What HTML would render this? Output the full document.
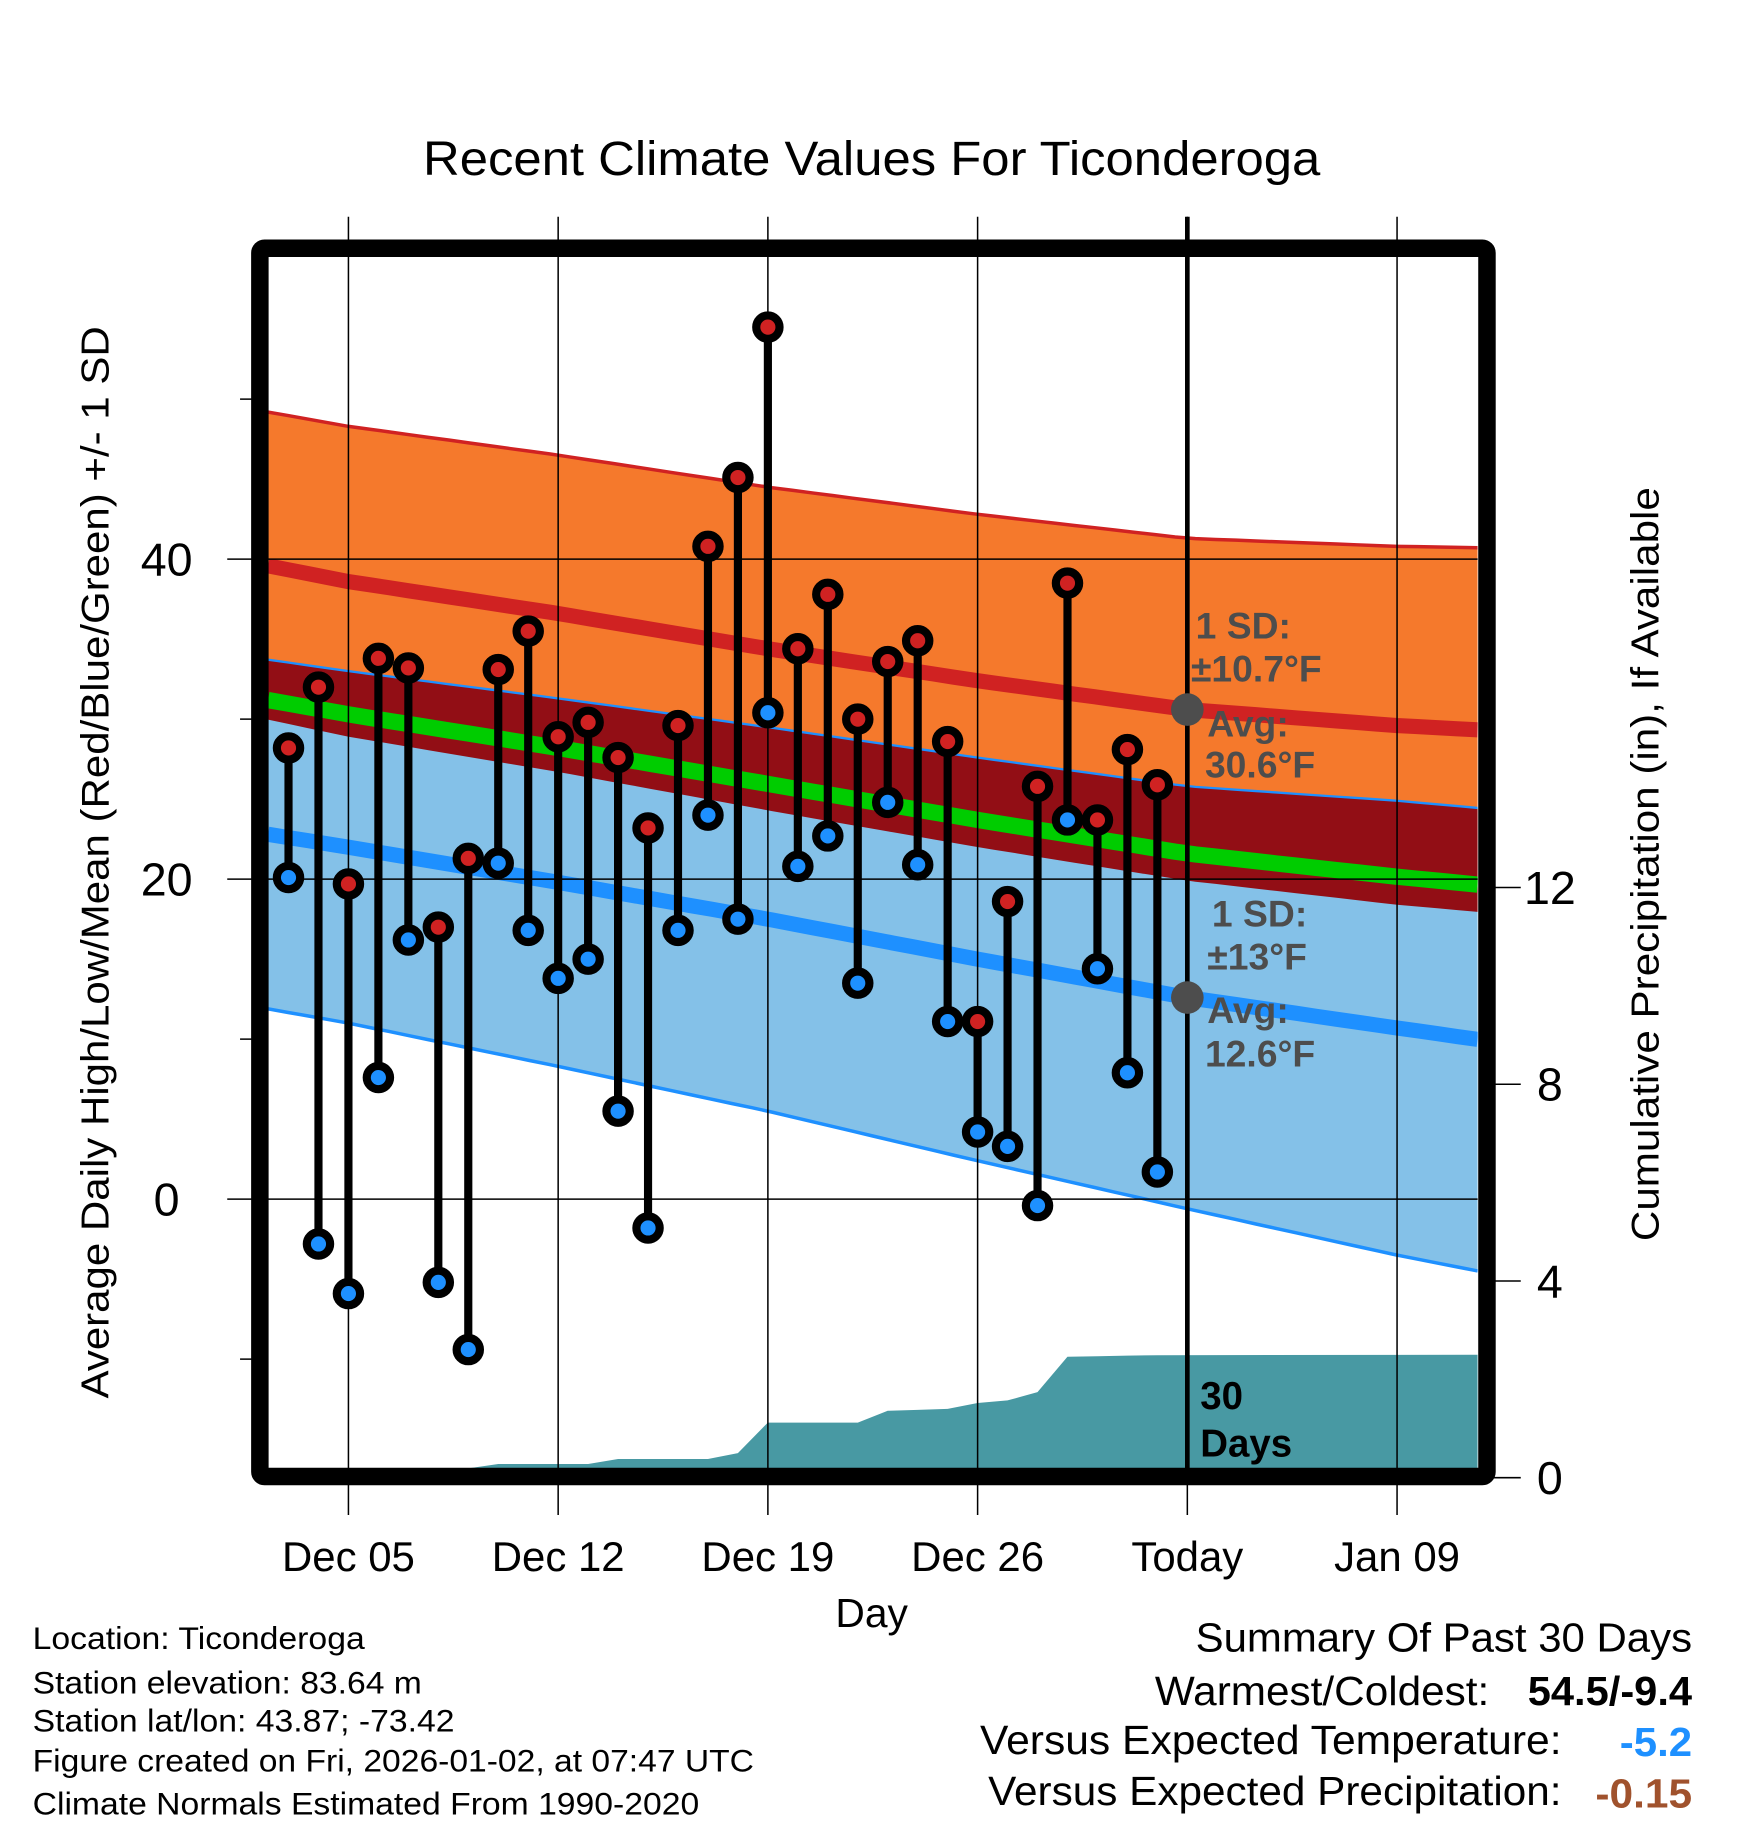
<!DOCTYPE html>
<html><head><meta charset="utf-8"><style>
html,body{margin:0;padding:0;background:#fff;}
svg{display:block;font-family:"Liberation Sans",Arial,sans-serif;}
</style></head><body>
<svg id="chart" width="1748" height="1828" viewBox="0 0 1500 1568.6" preserveAspectRatio="none" xmlns="http://www.w3.org/2000/svg">
<text x="363" y="150" font-size="41" textLength="770" lengthAdjust="spacingAndGlyphs">Recent Climate Values For Ticonderoga</text>
<g id="plot"></g>
<text transform="translate(93,1200) rotate(-90)" font-size="33" textLength="920" lengthAdjust="spacingAndGlyphs">Average Daily High/Low/Mean (Red/Blue/Green) +/- 1 SD</text>
<text transform="translate(1423,1065) rotate(-90)" font-size="33" textLength="647" lengthAdjust="spacingAndGlyphs">Cumulative Precipitation (in), If Available</text>
<text x="748" y="1396" font-size="35" text-anchor="middle">Day</text>
<g font-size="27">
<text x="28" y="1415" textLength="285" lengthAdjust="spacingAndGlyphs">Location: Ticonderoga</text>
<text x="28" y="1453" textLength="334" lengthAdjust="spacingAndGlyphs">Station elevation: 83.64 m</text>
<text x="28" y="1486" textLength="362" lengthAdjust="spacingAndGlyphs">Station lat/lon: 43.87; -73.42</text>
<text x="28" y="1520" textLength="619" lengthAdjust="spacingAndGlyphs">Figure created on Fri, 2026-01-02, at 07:47 UTC</text>
<text x="28" y="1557" textLength="572" lengthAdjust="spacingAndGlyphs">Climate Normals Estimated From 1990-2020</text>
</g>
<g font-size="35">
<text x="1026" y="1417" textLength="426" lengthAdjust="spacingAndGlyphs">Summary Of Past 30 Days</text>
<text x="991" y="1463" textLength="287" lengthAdjust="spacingAndGlyphs">Warmest/Coldest:</text>
<text x="1311" y="1463" font-weight="bold" textLength="141" lengthAdjust="spacingAndGlyphs">54.5/-9.4</text>
<text x="841" y="1505" textLength="499" lengthAdjust="spacingAndGlyphs">Versus Expected Temperature:</text>
<text x="1390" y="1507" font-weight="bold" fill="#1e90ff" textLength="62" lengthAdjust="spacingAndGlyphs">-5.2</text>
<text x="848" y="1549" textLength="492" lengthAdjust="spacingAndGlyphs">Versus Expected Precipitation:</text>
<text x="1369" y="1551" font-weight="bold" fill="#a0522d" textLength="83" lengthAdjust="spacingAndGlyphs">-0.15</text>
</g>
</svg>
<script>
// ---- data ----
const dayLabels = ["Dec 03","Dec 04","Dec 05","Dec 06","Dec 07","Dec 08","Dec 09","Dec 10","Dec 11","Dec 12","Dec 13","Dec 14","Dec 15","Dec 16","Dec 17","Dec 18","Dec 19","Dec 20","Dec 21","Dec 22","Dec 23","Dec 24","Dec 25","Dec 26","Dec 27","Dec 28","Dec 29","Dec 30","Dec 31","Jan 01"];
const highs = [28.2,32.0,19.7,33.8,33.2,17.0,21.3,33.1,35.5,28.9,29.8,27.6,23.2,29.6,40.8,45.1,54.5,34.4,37.8,30.0,33.6,34.9,28.6,11.1,18.6,25.8,38.5,23.7,28.1,25.9];
const lows = [20.1,-2.8,-5.9,7.6,16.2,-5.2,-9.4,21.0,16.8,13.8,15.0,5.5,-1.8,16.8,24.0,17.5,30.4,20.8,22.7,13.5,24.8,20.9,11.1,4.2,3.3,-0.4,23.7,14.4,7.9,1.7];
const precip = [0,0,0,0,0,0,0,0.28,0.28,0.28,0.28,0.38,0.38,0.38,0.38,0.5,1.12,1.12,1.12,1.12,1.36,1.38,1.40,1.52,1.57,1.74,2.46,2.47,2.48,2.49];
const precipEnd = 2.5;
const normDays = [-3,0,7,14,21,28,35,38];
const highMean = [39.7,38.6,36.6,34.4,32.4,30.6,29.6,29.3];
const highSD = [9.6,9.7,9.9,10.1,10.4,10.7,11.2,11.4];
const lowMean = [22.9,22.0,19.8,17.5,15.0,12.6,10.7,9.9];
const lowSD = [10.9,11.0,11.5,12.0,12.6,13.2,14.2,14.5];
const xTickDays = [0,7,14,21,28,35];
const xTickLabels = ["Dec 05","Dec 12","Dec 19","Dec 26","Today","Jan 09"];
const yTicks = [0,20,40];
const yMinor = [-10,10,30,50];
const pTicks = [0,4,8,12];
const firstDay = -2; // Dec 03 relative to Dec 05

// ---- scales ----
const L=230,R=1268,T=220,B=1260;
const xs = d => 299 + d*25.71;
const ys = v => 1029 - v*13.73;
const yp = v => 1268 - v*42.2;
const NS="http://www.w3.org/2000/svg";
const plot=document.getElementById('plot');
function mk(tag,attrs,parent){const e=document.createElementNS(NS,tag);for(const k in attrs)e.setAttribute(k,attrs[k]);(parent||plot).appendChild(e);return e;}
function interp(arr,d){for(let i=0;i<normDays.length-1;i++){if(d<=normDays[i+1]||i==normDays.length-2){const t=(d-normDays[i])/(normDays[i+1]-normDays[i]);return arr[i]+(arr[i+1]-arr[i])*t;}}}
const dL=(L-299)/25.71,dR=(R-299)/25.71;
const samp=[];for(let i=0;i<=60;i++)samp.push(dL+(dR-dL)*i/60);
mk('defs',{}).innerHTML='<clipPath id="pc"><rect x="'+L+'" y="'+T+'" width="'+(R-L)+'" height="'+(B-T)+'"/></clipPath>';
const clipG=mk('g',{'clip-path':'url(#pc)'});
function band(fTop,fBot,fill,name){
  let d="M"+samp.map(s=>xs(s).toFixed(1)+","+ys(fTop(s)).toFixed(1)).join(" L");
  d+=" L"+samp.slice().reverse().map(s=>xs(s).toFixed(1)+","+ys(fBot(s)).toFixed(1)).join(" L")+"Z";
  const p=mk('path',{d:d,fill:fill},clipG);
  
  
}
function line(f,stroke,w,name){
  const p=mk('path',{d:"M"+samp.map(s=>xs(s).toFixed(1)+","+ys(f(s)).toFixed(1)).join(" L"),stroke:stroke,'stroke-width':w,fill:'none'},clipG);
  
  
}
const hm=s=>interp(highMean,s),hs=s=>interp(highSD,s),lm=s=>interp(lowMean,s),ls=s=>interp(lowSD,s);
band(s=>hm(s)+hs(s),s=>hm(s)-hs(s),'#f5792c','high-sd-band');
band(s=>lm(s)+ls(s),s=>lm(s)-ls(s),'#84c1e8','low-sd-band');
band(s=>lm(s)+ls(s),s=>hm(s)-hs(s),'#920e15','overlap-band');
line(s=>hm(s)+hs(s),'#d02222',3,'high-upper-sd-line');
line(s=>lm(s)+ls(s),'#1e90ff',2,'low-upper-sd-line');
line(s=>lm(s)-ls(s),'#1e90ff',3,'low-lower-sd-line');
line(s=>hm(s),'#d02222',13,'high-mean-line');
line(s=>lm(s),'#1e90ff',13,'low-mean-line');
line(s=>(hm(s)+lm(s))/2,'#00cc00',14,'mean-line');
// precip area
(function(){
  let d="M"+xs(firstDay).toFixed(1)+","+B;
  precip.forEach((v,i)=>{d+=" L"+xs(firstDay+i).toFixed(1)+","+Math.min(B,yp(v)).toFixed(1);});
  d+=" L"+R+","+yp(precipEnd).toFixed(1)+" L"+R+","+B+" Z";
  const p=mk('path',{d:d,fill:'#4899a3'},clipG);
  
  
})();
// gridlines
xTickDays.forEach((d,i)=>{
  const l=mk('line',{x1:xs(d),x2:xs(d),y1:186,y2:1300,stroke:'#000','stroke-width':1.3});
  
  
  const t=mk('text',{x:xs(d),y:1348,'font-size':36,'text-anchor':'middle'});
  t.textContent=xTickLabels[i];
  
  
});
yTicks.forEach(v=>{
  const l=mk('line',{x1:195,x2:R,y1:ys(v),y2:ys(v),stroke:'#000','stroke-width':1.3});
  
  
  const t=mk('text',{x:143,y:ys(v)+14,'font-size':40,'text-anchor':'middle'});
  t.textContent=v;
  
  
});
yMinor.forEach(v=>{
  const l=mk('line',{x1:206,x2:222,y1:ys(v),y2:ys(v),stroke:'#000','stroke-width':1.3});
  
  
});
pTicks.forEach(v=>{
  const l=mk('line',{x1:1276,x2:1305,y1:yp(v),y2:yp(v),stroke:'#000','stroke-width':1.3});
  
  
  const t=mk('text',{x:1330,y:yp(v)+14,'font-size':40,'text-anchor':'middle'});
  t.textContent=v;
  
  
});
// today line
(function(){const l=mk('line',{x1:xs(28),x2:xs(28),y1:186,y2:B,stroke:'#000','stroke-width':4});

})();
// annotations
(function(){
  const g=mk('g',{fill:'#4d4d4d','font-weight':'bold','font-size':32});
  
  
  const tx=xs(28);
  mk('circle',{cx:tx,cy:ys(hm(28)),r:14,fill:'#4d4d4d'},g);
  mk('circle',{cx:tx,cy:ys(lm(28)),r:14,fill:'#4d4d4d'},g);
  const items=[[1026,548,"1 SD:"],[1022,585,"±10.7°F"],[1036,632,"Avg:"],[1034,667,"30.6°F"],[1040,795,"1 SD:"],[1036,832,"±13°F"],[1036,878,"Avg:"],[1034,915,"12.6°F"]];
  items.forEach(it=>{const t=mk('text',{x:it[0],y:it[1]},g);t.textContent=it[2];});
  const g2=mk('g',{fill:'#000','font-weight':'bold','font-size':33});
  
  
  const a=mk('text',{x:1030,y:1209},g2);a.textContent="30";
  const b=mk('text',{x:1030,y:1250},g2);b.textContent="Days";
})();
// stems and markers
highs.forEach((h,i)=>{
  const x=xs(firstDay+i);
  const s=mk('line',{x1:x,x2:x,y1:ys(h),y2:ys(lows[i]),stroke:'#000','stroke-width':7});
  
  
});
highs.forEach((h,i)=>{
  const x=xs(firstDay+i);
  const c1=mk('circle',{cx:x,cy:ys(h),r:10,fill:'#d02222',stroke:'#000','stroke-width':7});
  
  
  const c2=mk('circle',{cx:x,cy:ys(lows[i]),r:10,fill:'#1e90ff',stroke:'#000','stroke-width':7});
  
  
});
// frame
(function(){const f=mk('rect',{x:223,y:213,width:1053,height:1054,fill:'none',stroke:'#000','stroke-width':15,rx:4});

})();
</script>
</body></html>
